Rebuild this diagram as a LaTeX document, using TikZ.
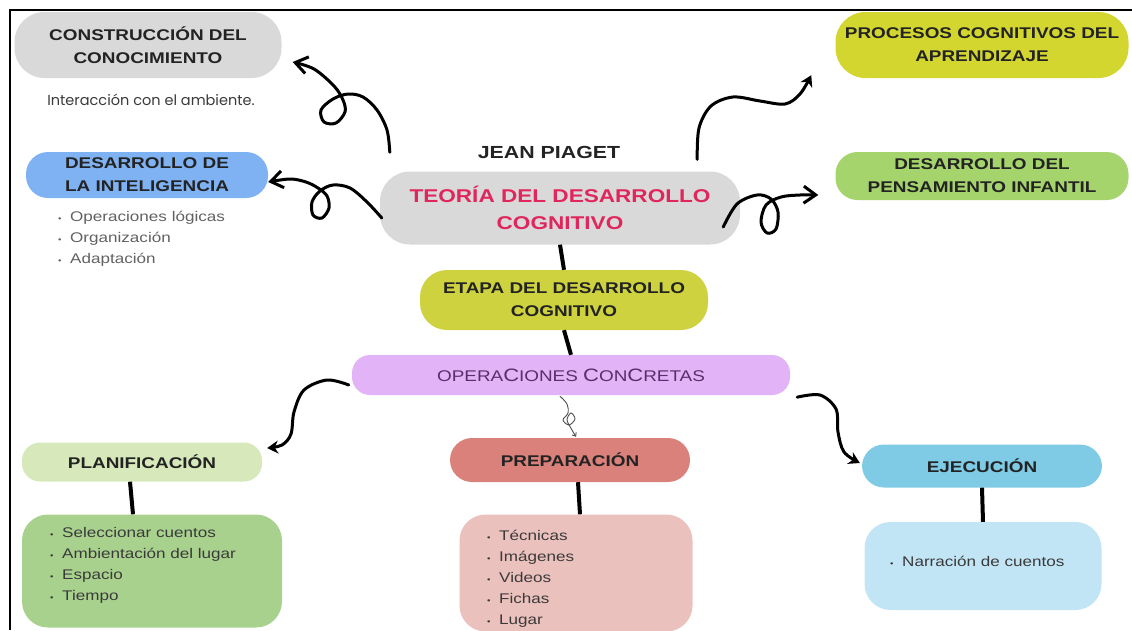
\documentclass[tikz,border=0pt]{standalone}
\usepackage{fontspec}
\setmainfont{Liberation Sans}[FakeStretch=1.22]
\newfontfamily\notefont{Poppins}
\usetikzlibrary{arrows.meta,calc}

\definecolor{boxgray}{HTML}{D9D9D9}
\definecolor{intelblue}{HTML}{7FB2F2}
\definecolor{procyellow}{HTML}{D3D62E}
\definecolor{pensgreen}{HTML}{A5D36C}
\definecolor{etapayellow}{HTML}{CDD23E}
\definecolor{operlilac}{HTML}{E2B4F7}
\definecolor{operpurple}{HTML}{5C2D6E}
\definecolor{teoriared}{HTML}{E0265C}
\definecolor{planlight}{HTML}{D7E9BA}
\definecolor{plangreen}{HTML}{A9D18E}
\definecolor{prepred}{HTML}{D9817A}
\definecolor{preppink}{HTML}{EBC1BD}
\definecolor{ejecblue}{HTML}{7FCBE6}
\definecolor{ejeclight}{HTML}{C2E5F5}
\definecolor{headtext}{HTML}{232323}
\definecolor{listtext}{HTML}{3A3A3A}

\newcommand\itm{\makebox[12pt][l]{\fontsize{8}{8}\selectfont\textbullet}}
\newcommand\bigc{{\fontsize{18}{18}\selectfont C}}

\tikzset{
  pill/.style={rounded corners=22pt, inner sep=2pt, align=center, text=headtext,
    font=\bfseries\fontsize{15.5}{23}\selectfont},
  listbox/.style={rounded corners=26pt, inner sep=0pt},
  items/.style={anchor=north west, align=left, inner sep=0pt, text=listtext,
    font=\fontsize{14}{21}\selectfont},
  stem/.style={line width=4pt},
  curl/.style={line width=3pt, line cap=round, line join=round,
    -{Straight Barb[length=12pt,width=17pt]}},
  curlsolid/.style={line width=3pt, line cap=round, line join=round,
    -{Stealth[length=11pt,width=13pt]}},
}

\begin{document}
\begin{tikzpicture}[x=1pt, y=-1pt]
  \useasboundingbox (0,0) rectangle (1132,630);
  \draw[line width=1.6pt] (10,630) -- (10,10) -- (1132,10);

  % left column
  \node[pill, fill=boxgray, minimum width=267pt, minimum height=66pt, rounded corners=30pt] (constr) at (148,45) {CONSTRUCCIÓN DEL\\CONOCIMIENTO};
  \node[text=listtext, font=\notefont\fontsize{14.5}{16}\selectfont] (ambiente) at (151,100) {Interacción con el ambiente.};
  \node[pill, fill=intelblue, minimum width=242pt, minimum height=46pt] (intel) at (147,175) {DESARROLLO DE\\LA INTELIGENCIA};
  \node[items, text=black!62] (intelitems) at (58,211) {\itm Operaciones lógicas\\\itm Organización\\\itm Adaptación};

  % centre
  \node[font=\bfseries\fontsize{17.5}{20}\selectfont, text=headtext] (piaget) at (549,152) {JEAN PIAGET};
  \node[pill, fill=boxgray, minimum width=360pt, minimum height=73pt, rounded corners=30pt, text=teoriared, font=\bfseries\fontsize{18.5}{27}\selectfont] (teoria) at (560,208) {TEORÍA DEL DESARROLLO\\COGNITIVO};
  \node[pill, fill=etapayellow, minimum width=288pt, minimum height=60pt, rounded corners=27pt] (etapa) at (564,300) {ETAPA DEL DESARROLLO\\COGNITIVO};
  \node[pill, fill=operlilac, minimum width=438pt, minimum height=40pt, rounded corners=18pt, text=operpurple, font=\fontsize{15.5}{18}\selectfont] (operac) at (571,375) {OPERA\bigc IONES \bigc ON\bigc RETAS};

  % right column
  \node[pill, fill=procyellow, minimum width=293pt, minimum height=66pt, rounded corners=30pt] (procesos) at (982,45) {PROCESOS COGNITIVOS DEL\\APRENDIZAJE};
  \node[pill, fill=pensgreen, minimum width=293pt, minimum height=48pt] (pensam) at (982,176) {DESARROLLO DEL\\PENSAMIENTO INFANTIL};

  % three phases
  \node[pill, fill=planlight, minimum width=240pt, minimum height=39pt, rounded corners=18pt] (planif) at (142,462) {PLANIFICACIÓN};
  \node[listbox, fill=plangreen, minimum width=260pt, minimum height=113pt] (planbox) at (152,571) {};
  \node[items] (planitems) at (50,527) {\itm Seleccionar cuentos\\\itm Ambientación del lugar\\\itm Espacio\\\itm Tiempo};

  \node[pill, fill=prepred, minimum width=240pt, minimum height=44pt] (prep) at (570,460) {PREPARACIÓN};
  \node[listbox, fill=preppink, minimum width=233pt, minimum height=117pt] (prepbox) at (576,573) {};
  \node[items] (prepitems) at (487,530) {\itm Técnicas\\\itm Imágenes\\\itm Videos\\\itm Fichas\\\itm Lugar};

  \node[pill, fill=ejecblue, minimum width=240pt, minimum height=43pt] (ejec) at (982,466) {EJECUCIÓN};
  \node[listbox, fill=ejeclight, minimum width=237pt, minimum height=88pt] (ejecbox) at (983,566) {};
  \node[items] (ejecitems) at (890,556) {\itm Narración de cuentos};

  % straight stems
  \draw[stem] (teoria.south) -- (etapa.north);
  \draw[stem] (etapa.south) -- (operac.north);
  \draw[stem] ($(planif.south)+(-12,0)$) -- ($(planbox.north)+(-19,0)$);
  \draw[stem] ($(prep.south)+(8,0)$) -- ($(prepbox.north)+(4,0)$);
  \draw[stem] (ejec.south) -- (ejecbox.north);

  % curly arrows
  \coordinate (a0) at ($(teoria.north west)+(10,-19)$);
  \coordinate (a1) at ($(constr.east)+(11,17)$);
  \draw[curl] plot[smooth, tension=0.55] coordinates {(a0) (387,130) (377,110) (363,97) (348,94) (333,99) (321,110) (324,122) (336,123) (345,112) (343,100) (334,86) (314,69) (a1)};

  \coordinate (b0) at ($(teoria.west)+(2,10)$);
  \coordinate (b1) at ($(intel.east)+(0,7)$);
  \draw[curl] plot[smooth, tension=0.55] coordinates {(b0) (367,202) (350,188) (333,185) (320,191) (312,202) (313,215) (322,218) (329,208) (327,196) (318,188) (306,182) (290,179) (b1)};

  \coordinate (c0) at ($(teoria.north east)+(-43,-12)$);
  \coordinate (c1) at ($(procesos.south west)+(-24,-3)$);
  \draw[curlsolid] plot[smooth, tension=0.55] coordinates {(c0) (699,128) (711,106) (733,97) (760,101) (785,104) (800,94) (c1)};

  \coordinate (d0) at ($(teoria.east)+(-17,19)$);
  \coordinate (d1) at ($(pensam.west)+(-17,19)$);
  \draw[curl] plot[smooth, tension=0.55] coordinates {(d0) (737,204) (757,195) (771,199) (778,212) (776,229) (767,233) (761,222) (766,205) (781,197) (800,195) (d1)};

  \coordinate (e0) at ($(operac.west)+(-3,10)$);
  \coordinate (e1) at ($(planif.east)+(5,-14)$);
  \draw[curlsolid] plot[smooth, tension=0.55] coordinates {(e0) (327,380) (304,390) (294,412) (291,434) (282,445) (e1)};

  \coordinate (f0) at ($(operac.south)+(-11,1)$);
  \coordinate (f1) at ($(prep.north)+(6,-1)$);
  \draw[line width=0.9pt, draw=headtext!80, -{Straight Barb[length=3pt,width=5pt]}] plot[smooth, tension=0.55] coordinates {(f0) (567,404) (568,413) (563,420) (569,425) (575,419) (571,413) (567,420) (572,430) (f1)};

  \coordinate (g0) at ($(operac.south east)+(7,2)$);
  \coordinate (g1) at ($(ejec.west)+(-2,-3)$);
  \draw[curlsolid] plot[smooth, tension=0.55] coordinates {(g0) (820,395) (836,409) (838,432) (844,452) (g1)};
\end{tikzpicture}
\end{document}
